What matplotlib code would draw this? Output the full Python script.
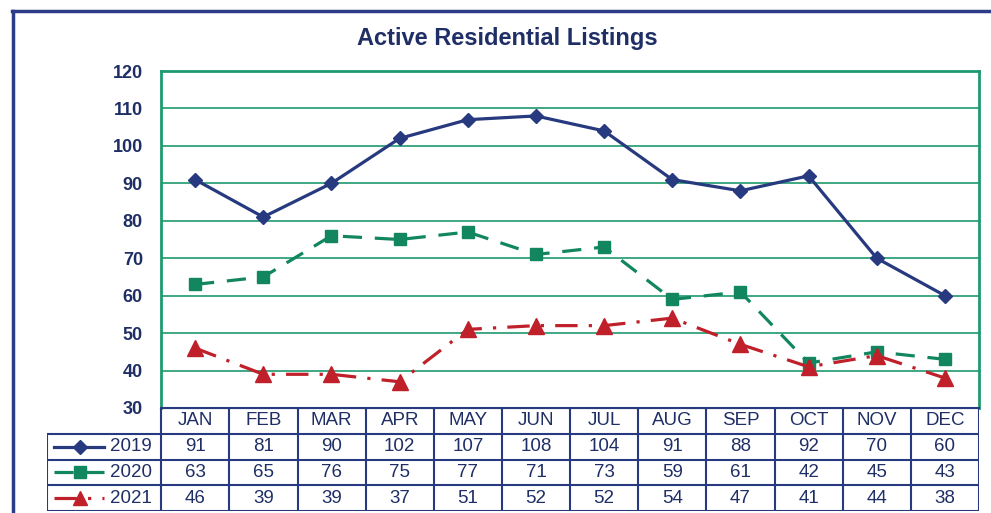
import numpy as np
import matplotlib
matplotlib.use('Agg')
import matplotlib.pyplot as plt
from matplotlib.lines import Line2D

plt.rcParams['font.family'] = ['Liberation Sans', 'DejaVu Sans']

months = ['JAN', 'FEB', 'MAR', 'APR', 'MAY', 'JUN', 'JUL', 'AUG', 'SEP', 'OCT', 'NOV', 'DEC']
years = ['2019', '2020', '2021']
listings_2019 = [91, 81, 90, 102, 107, 108, 104, 91, 88, 92, 70, 60]
listings_2020 = [63, 65, 76, 75, 77, 71, 73, 59, 61, 42, 45, 43]
listings_2021 = [46, 39, 39, 37, 51, 52, 52, 54, 47, 41, 44, 38]
series = [listings_2019, listings_2020, listings_2021]

navy = '#27397f'
green = '#12875f'
red = '#c0202a'
grid_c = '#1f9a6e'
styles = [dict(color=navy, ls='-', marker='D', ms=7.5),
          dict(color=green, ls=(0, (6, 4)), marker='s', ms=8.5),
          dict(color=red, ls=(0, (7, 3.5, 1, 3.5)), marker='^', ms=11)]

W, H = 991, 513
fig = plt.figure(figsize=(W / 100, H / 100), dpi=100)

def px(x0, y0, x1, y1):
    return [x0 / W, 1 - y1 / H, (x1 - x0) / W, (y1 - y0) / H]

# main plot
ax = fig.add_axes(px(161, 71, 979, 408))
x = np.arange(len(months))
for vals, st in zip(series, styles):
    ax.plot(x, vals, color=st['color'], ls=st['ls'], lw=2.3, marker=st['marker'],
            ms=st['ms'], mfc=st['color'], mec=st['color'], zorder=3)
ax.set_xlim(-0.5, 11.5)
ax.set_ylim(30, 120)
ax.set_yticks(range(30, 121, 10))
ax.set_xticks([])
ax.grid(axis='y', color=grid_c, lw=1.2)
for s in ['top', 'left', 'right']:
    ax.spines[s].set_color(grid_c)
    ax.spines[s].set_linewidth(2)
ax.spines['bottom'].set_color(navy)
ax.spines['bottom'].set_linewidth(1.5)
ax.tick_params(axis='y', length=0, pad=13, labelsize=13, labelcolor='#1f2f66')
for lab in ax.get_yticklabels():
    lab.set_fontweight('bold')

fig.text(507 / W, 1 - 38 / H, 'Active Residential Listings', ha='center', va='center',
         fontsize=17, fontweight='bold', color='#1f2f66')

# data table
legw = (161 - 47) / 68.0
tx = fig.add_axes(px(47, 408, 979, 511))
tx.set_xlim(-0.5 - legw, 11.5)
tx.set_ylim(4, 0)
tx.axis('off')
lc = navy
lw = 1.5
xl = -0.5 - legw
# horizontal lines
tx.plot([-0.5, 11.5], [0, 0], color=lc, lw=lw)
for r in range(1, 5):
    tx.plot([xl, 11.5], [r, r], color=lc, lw=lw)
# vertical lines
tx.plot([xl, xl], [1, 4], color=lc, lw=lw)
for c in range(13):
    tx.plot([c - 0.5, c - 0.5], [0, 4], color=lc, lw=lw)
tcol = '#1f2f66'
for i, m in enumerate(months):
    tx.text(i, 0.5, m, ha='center', va='center', fontsize=13.5, color=tcol)
for r, (yr, vals, st) in enumerate(zip(years, series, styles)):
    yy = r + 1.5
    for i, v in enumerate(vals):
        tx.text(i, yy, str(v), ha='center', va='center', fontsize=13.5, color=tcol)
    # legend key
    lx = np.array([xl + 0.1, xl + 0.48, xl + 0.84])
    tx.plot(lx, [yy] * 3, color=st['color'], ls=st['ls'], lw=2.3, marker=st['marker'],
            ms=st['ms'] * 0.95, markevery=[1], mfc=st['color'], mec=st['color'])
    tx.text(xl + 0.93, yy, yr, ha='left', va='center', fontsize=13.5, color=tcol)

# outer frame
fig.add_artist(Line2D([13 / W, 13 / W], [0, 1 - 11 / H], color='#2d3c86', lw=2.5))
fig.add_artist(Line2D([12 / W, 1], [1 - 11 / H, 1 - 11 / H], color='#2d3c86', lw=2.5))

fig.savefig('out.png', dpi=100)
